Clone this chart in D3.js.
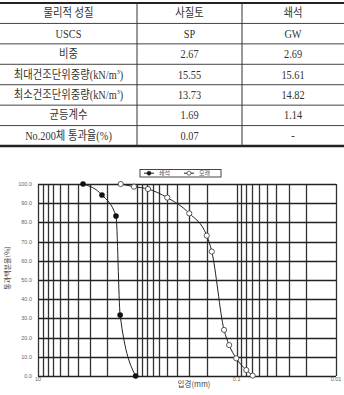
<!DOCTYPE html>
<html>
<head>
<meta charset="utf-8">
<script src="https://cdn.jsdelivr.net/npm/d3@7"></script>
<style>
  body { margin: 0; background: #fff; }
  svg { display: block; }
</style>
</head>
<body>
<div id="chart"></div>
<script>
document.addEventListener('DOMContentLoaded', function () {

  const width = 344, height = 395;

  // table data
  const tableHeader = ['물리적 성질', '사질토', '쇄석'];
  const rowLabels = ['USCS', '비중', '최대건조단위중량(kN/m3)', '최소건조단위중량(kN/m3)', '균등계수', 'No.200체 통과율(%)'];
  const sandValues = ['SP', '2.67', '15.55', '13.73', '1.69', '0.07'];
  const gravelValues = ['GW', '2.69', '15.61', '14.82', '1.14', '-'];

  // grain size curves (size in mm, percent passing)
  const seriesNames = ['쇄석', '모래'];
  const gravelSize = [3.52, 2.27, 1.64, 1.49, 1.04];
  const gravelPass = [100, 94.3, 83.3, 31.8, 0];
  const sandSize = [1.47, 1.08, 0.78, 0.50, 0.30, 0.20, 0.178, 0.134, 0.119, 0.101, 0.080, 0.069];
  const sandPass = [100, 98.6, 97.4, 92.9, 84.7, 73.1, 64.8, 24.0, 16.1, 9.2, 3.1, 0.2];
  const yTicks = [0, 10, 20, 30, 40, 50, 60, 70, 80, 90, 100];
  const xLabels = [10, 0.1, 0.01];

  const svg = d3.select('#chart')
    .append('svg')
    .attr('width', width)
    .attr('height', height);

  // ---------- table ----------
  const colEdges = [0, 137, 242, 344];
  const rowTop = 3, rowH = 20.43;
  const nRows = rowLabels.length + 1;
  const serif = "'Liberation Serif', 'Noto Sans CJK KR', serif";

  const table = svg.append('g');

  for (let i = 1; i < nRows; i++) {
    table.append('line')
      .attr('x1', 0).attr('x2', width)
      .attr('y1', rowTop + i * rowH).attr('y2', rowTop + i * rowH)
      .attr('stroke', '#444').attr('stroke-width', 1);
  }
  table.append('line')
    .attr('x1', 0).attr('x2', width)
    .attr('y1', rowTop).attr('y2', rowTop)
    .attr('stroke', '#222').attr('stroke-width', 2);
  table.append('line')
    .attr('x1', 0).attr('x2', width)
    .attr('y1', rowTop + nRows * rowH).attr('y2', rowTop + nRows * rowH)
    .attr('stroke', '#222').attr('stroke-width', 2.5);
  [colEdges[1], colEdges[2]].forEach(x => {
    table.append('line')
      .attr('x1', x).attr('x2', x)
      .attr('y1', rowTop).attr('y2', rowTop + nRows * rowH)
      .attr('stroke', '#333').attr('stroke-width', 1);
  });

  const rows = [tableHeader].concat(rowLabels.map((r, i) => [r, sandValues[i], gravelValues[i]]));

  rows.forEach((row, ri) => {
    row.forEach((cell, ci) => {
      const cx = (colEdges[ci] + colEdges[ci + 1]) / 2;
      const cy = rowTop + (ri + 0.5) * rowH + 4;
      const t = table.append('text')
        .attr('transform', `translate(${cx},${cy}) scale(0.86,1)`)
        .attr('text-anchor', 'middle')
        .attr('fill', '#333')
        .style('font-family', serif)
        .style('font-size', '12px');
      if (cell.endsWith('m3)')) {
        t.append('tspan').text(cell.slice(0, -2));
        t.append('tspan').text('3').attr('dy', -5).style('font-size', '7px');
        t.append('tspan').text(')').attr('dy', 5);
      } else {
        t.text(cell);
      }
    });
  });

  // ---------- chart ----------
  const x = d3.scaleLog().domain([10, 0.01]).range([38, 336]);
  const y = d3.scaleLinear().domain([0, 100]).range([376, 184]);
  const sans = "'Liberation Sans', Arial, sans-serif";
  const kr = "'Noto Sans CJK KR', sans-serif";

  const gridX = x.ticks();

  const grid = svg.append('g').attr('class', 'grid');
  gridX.forEach(d => {
    const px = Math.round(x(d)) + 0.5;
    grid.append('line')
      .attr('x1', px).attr('x2', px)
      .attr('y1', y(100)).attr('y2', y(0))
      .attr('stroke', '#333').attr('stroke-width', 1.3);
  });
  yTicks.forEach(d => {
    const py = Math.round(y(d)) + 0.5;
    grid.append('line')
      .attr('x1', x(10)).attr('x2', x(0.01))
      .attr('y1', py).attr('y2', py)
      .attr('stroke', '#222').attr('stroke-width', 1.3);
  });

  svg.append('g').selectAll('text')
    .data(yTicks)
    .enter().append('text')
    .attr('x', 32).attr('y', d => y(d) + 2)
    .attr('text-anchor', 'end')
    .attr('fill', '#666')
    .style('font-family', sans)
    .style('font-size', '5.5px')
    .text(d => d3.format('.1f')(d));

  svg.append('g').selectAll('text')
    .data(xLabels)
    .enter().append('text')
    .attr('x', d => x(d)).attr('y', 381)
    .attr('text-anchor', 'middle')
    .attr('fill', '#666')
    .style('font-family', sans)
    .style('font-size', '5.5px')
    .text(d => d);

  svg.append('text')
    .attr('transform', 'translate(10,268) rotate(-90)')
    .attr('text-anchor', 'middle')
    .attr('fill', '#444')
    .style('font-family', kr)
    .style('font-size', '7px')
    .text('통과백분율(%)');

  svg.append('text')
    .attr('x', 194).attr('y', 387)
    .attr('text-anchor', 'middle')
    .attr('fill', '#444')
    .style('font-family', kr)
    .style('font-size', '7.5px')
    .text('입경(mm)');

  const line = d3.line()
    .x(d => x(d[0]))
    .y(d => y(d[1]))
    .curve(d3.curveMonotoneX);

  const gravel = gravelSize.map((s, i) => [s, gravelPass[i]]);
  const sand = sandSize.map((s, i) => [s, sandPass[i]]);

  svg.append('path').datum(gravel)
    .attr('d', line).attr('fill', 'none')
    .attr('stroke', '#222').attr('stroke-width', 1);
  svg.append('path').datum(sand)
    .attr('d', line).attr('fill', 'none')
    .attr('stroke', '#222').attr('stroke-width', 1);

  svg.append('g').selectAll('circle')
    .data(gravel)
    .enter().append('circle')
    .attr('cx', d => x(d[0])).attr('cy', d => y(d[1]))
    .attr('r', 2.8).attr('fill', '#111');
  svg.append('g').selectAll('circle')
    .data(sand)
    .enter().append('circle')
    .attr('cx', d => x(d[0])).attr('cy', d => y(d[1]))
    .attr('r', 2.6).attr('fill', '#fff')
    .attr('stroke', '#333').attr('stroke-width', 0.8);

  // legend
  const legend = svg.append('g');
  legend.append('rect')
    .attr('x', 140).attr('y', 169.5).attr('width', 81).attr('height', 7.5)
    .attr('fill', '#fff').attr('stroke', '#333').attr('stroke-width', 0.9);
  const legendX = [144, 184];
  seriesNames.forEach((name, i) => {
    const lx = legendX[i];
    legend.append('line')
      .attr('x1', lx).attr('x2', lx + 10)
      .attr('y1', 173.2).attr('y2', 173.2)
      .attr('stroke', '#222').attr('stroke-width', 1);
    legend.append('circle')
      .attr('cx', lx + 5).attr('cy', 173.2).attr('r', 2)
      .attr('fill', i === 0 ? '#111' : '#fff')
      .attr('stroke', '#333').attr('stroke-width', 0.7);
    legend.append('text')
      .attr('x', lx + 15).attr('y', 175.3)
      .attr('fill', '#555')
      .style('font-family', kr)
      .style('font-size', '6px')
      .text(name);
  });
});
</script>
</body>
</html>
